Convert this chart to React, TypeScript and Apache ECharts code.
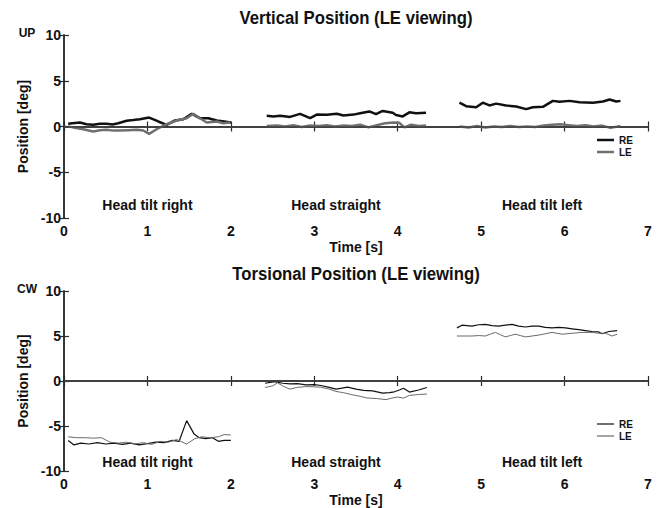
import React, { useEffect, useRef } from 'react';
import * as echarts from 'echarts';

// ---- data: [time s, position deg] ----
const vertRE1 = [[0.05,0.3],[0.1,0.36],[0.19,0.44],[0.27,0.25],[0.35,0.18],[0.43,0.3],[0.51,0.29],[0.58,0.22],[0.65,0.36],[0.75,0.62],[0.83,0.7],[0.91,0.8],[1.02,0.98],[1.08,0.75],[1.13,0.55],[1.23,0.18],[1.33,0.66],[1.43,0.8],[1.53,1.38],[1.63,0.91],[1.73,0.91],[1.83,0.66],[1.92,0.55],[2.0,0.44]];
const vertLE1 = [[0.05,0.0],[0.09,-0.07],[0.16,-0.2],[0.23,-0.3],[0.35,-0.55],[0.43,-0.4],[0.51,-0.36],[0.59,-0.45],[0.67,-0.44],[0.77,-0.4],[0.87,-0.36],[0.95,-0.44],[1.02,-0.8],[1.11,-0.3],[1.23,0.25],[1.35,0.66],[1.47,0.9],[1.55,1.4],[1.63,0.9],[1.71,0.44],[1.83,0.55],[1.91,0.36],[1.99,0.44]];
const vertRE2 = [[2.43,1.17],[2.51,1.1],[2.59,1.17],[2.71,1.05],[2.83,1.38],[2.95,0.91],[3.03,1.3],[3.15,1.28],[3.27,1.4],[3.35,1.2],[3.47,1.3],[3.55,1.45],[3.66,1.65],[3.74,1.35],[3.82,1.7],[3.94,1.5],[3.98,1.25],[4.06,1.1],[4.14,1.55],[4.22,1.45],[4.34,1.5]];
const vertLE2 = [[2.43,0.05],[2.55,0.1],[2.65,0.0],[2.75,0.15],[2.85,-0.05],[2.95,0.1],[3.05,0.05],[3.15,0.15],[3.25,0.0],[3.35,0.1],[3.45,0.05],[3.55,0.2],[3.65,-0.1],[3.75,0.15],[3.85,0.35],[3.95,0.45],[4.02,0.4],[4.08,-0.1],[4.16,0.2],[4.25,0.05],[4.34,0.1]];
const vertRE3 = [[4.74,2.6],[4.82,2.22],[4.94,2.11],[5.02,2.6],[5.1,2.3],[5.18,2.5],[5.3,2.3],[5.42,2.19],[5.54,1.9],[5.62,2.11],[5.74,2.15],[5.86,2.8],[5.94,2.7],[6.06,2.8],[6.18,2.66],[6.34,2.6],[6.46,2.73],[6.54,2.95],[6.62,2.73],[6.67,2.8]];
const vertLE3 = [[4.74,0.0],[4.85,-0.1],[4.95,0.05],[5.05,-0.1],[5.15,0.0],[5.25,-0.05],[5.35,0.05],[5.45,-0.05],[5.55,0.0],[5.65,-0.05],[5.75,0.1],[5.85,0.2],[5.95,0.25],[6.05,0.15],[6.15,0.05],[6.25,0.15],[6.35,0.0],[6.45,0.1],[6.55,-0.15],[6.67,0.05]];

const torRE1 = [[0.05,-6.6],[0.12,-7.1],[0.2,-6.9],[0.3,-7.0],[0.4,-6.85],[0.5,-7.0],[0.6,-6.9],[0.7,-7.05],[0.8,-6.9],[0.9,-7.1],[1.0,-6.95],[1.1,-6.8],[1.2,-6.85],[1.3,-6.6],[1.38,-6.7],[1.47,-4.4],[1.56,-5.9],[1.62,-6.3],[1.7,-6.4],[1.78,-6.3],[1.85,-6.7],[1.92,-6.6],[2.0,-6.6]];
const torLE1 = [[0.05,-6.2],[0.15,-6.3],[0.25,-6.3],[0.35,-6.35],[0.45,-6.3],[0.55,-6.8],[0.65,-6.9],[0.75,-6.8],[0.85,-7.0],[0.95,-6.85],[1.05,-7.05],[1.15,-6.7],[1.25,-6.8],[1.35,-6.5],[1.47,-7.0],[1.57,-6.4],[1.65,-6.2],[1.75,-6.3],[1.85,-6.2],[1.92,-5.95],[2.0,-6.0]];
const torRE2 = [[2.41,-0.25],[2.53,-0.07],[2.62,-0.25],[2.71,-0.33],[2.8,-0.3],[2.9,-0.43],[3.0,-0.4],[3.08,-0.5],[3.18,-0.7],[3.26,-0.9],[3.33,-0.8],[3.4,-0.69],[3.5,-0.9],[3.59,-1.05],[3.7,-1.1],[3.82,-1.34],[3.9,-1.3],[3.96,-1.2],[4.02,-1.0],[4.07,-0.8],[4.14,-1.23],[4.25,-1.0],[4.35,-0.72]];
const torLE2 = [[2.41,-0.72],[2.5,-0.55],[2.56,-0.2],[2.63,-0.6],[2.71,-0.9],[2.8,-0.7],[2.9,-0.62],[3.0,-0.65],[3.08,-0.69],[3.18,-0.9],[3.26,-1.16],[3.35,-1.3],[3.45,-1.52],[3.55,-1.7],[3.63,-1.88],[3.75,-1.95],[3.86,-2.07],[3.93,-1.9],[4.0,-1.78],[4.07,-1.9],[4.14,-1.6],[4.25,-1.5],[4.35,-1.45]];
const torRE3 = [[4.71,5.9],[4.77,6.2],[4.89,6.1],[4.97,6.25],[5.05,6.3],[5.13,6.15],[5.21,6.1],[5.29,6.2],[5.37,6.3],[5.45,6.1],[5.53,6.0],[5.61,6.1],[5.69,6.1],[5.77,5.95],[5.85,5.9],[5.93,5.95],[6.01,5.9],[6.09,5.8],[6.17,5.7],[6.25,5.6],[6.33,5.5],[6.41,5.45],[6.45,5.25],[6.53,5.5],[6.63,5.6]];
const torLE3 = [[4.71,5.0],[4.8,5.0],[4.89,5.0],[4.97,5.05],[5.05,5.0],[5.11,5.2],[5.17,5.4],[5.23,5.15],[5.29,4.9],[5.35,5.05],[5.41,5.2],[5.47,5.05],[5.53,4.9],[5.61,5.0],[5.69,5.1],[5.77,5.25],[5.85,5.4],[5.91,5.3],[5.97,5.2],[6.03,5.25],[6.09,5.3],[6.15,5.35],[6.21,5.4],[6.33,5.4],[6.41,5.3],[6.49,5.3],[6.57,5.0],[6.63,5.2]];

const conditions = ['Head tilt right', 'Head straight', 'Head tilt left'];
const conditionCenters = [1.0, 3.26, 5.73];
const chartTitles = ['Vertical Position (LE viewing)', 'Torsional Position (LE viewing)'];
const directionLabels = ['UP', 'CW'];
const eyes = ['RE', 'LE'];

const FONT = '"Liberation Sans Narrow", "Arial Narrow", "Liberation Sans", Arial, sans-serif';
const AX = '#2a2a2a';

function joinSegs(...segs: number[][][]) {
  const out: any[] = [];
  segs.forEach((s, i) => {
    if (i > 0) out.push([s[0][0] - 0.01, null]);
    s.forEach((p) => out.push(p));
  });
  return out;
}

export default function App() {
  const ref = useRef<HTMLDivElement>(null);
  useEffect(() => {
    if (!ref.current) return;
    const chart = echarts.init(ref.current, undefined, { renderer: 'svg' });
    const grids = [
      { left: 64, top: 35, width: 584, height: 183 },
      { left: 64, top: 291, width: 584, height: 184 },
    ];
    const lbl = { fontFamily: FONT, fontWeight: 'bold' as const, color: '#111', fontSize: 14 };
    const xAxes: any[] = [];
    const yAxes: any[] = [];
    grids.forEach((_, g) => {
      xAxes.push({
        gridIndex: g, type: 'value', min: 0, max: 7, interval: 1, position: 'bottom',
        axisLine: { show: true, lineStyle: { color: AX, width: 1.5 } },
        axisTick: { show: true, inside: true, length: 5, lineStyle: { color: AX, width: 1.2 } },
        axisLabel: { ...lbl, margin: 6 },
        splitLine: { show: false },
        name: 'Time [s]', nameLocation: 'middle', nameGap: 22,
        nameTextStyle: { ...lbl },
      });
      xAxes.push({
        gridIndex: g, type: 'value', min: 0, max: 7, interval: 1, position: 'top',
        axisLine: { show: true, lineStyle: { color: AX, width: 1.5 } },
        axisTick: { show: true, inside: true, length: 5, lineStyle: { color: AX, width: 1.2 } },
        axisLabel: { show: false }, splitLine: { show: false },
      });
      yAxes.push({
        gridIndex: g, type: 'value', min: -10, max: 10, interval: 5, position: 'left',
        axisLine: { show: true, lineStyle: { color: AX, width: 1.5 } },
        axisTick: { show: true, inside: true, length: 5, lineStyle: { color: AX, width: 1.2 } },
        axisLabel: { ...lbl, margin: 3 },
        splitLine: { show: false },
        name: 'Position [deg]', nameLocation: 'middle', nameGap: 23,
        nameTextStyle: { ...lbl },
      });
      yAxes.push({
        gridIndex: g, type: 'value', min: -10, max: 10, interval: 5, position: 'right',
        axisLine: { show: true, lineStyle: { color: AX, width: 1.5 } },
        axisTick: { show: true, inside: true, length: 5, lineStyle: { color: AX, width: 1.2 } },
        axisLabel: { show: false }, splitLine: { show: false },
      });
    });

    const zeroLine = {
      silent: true, symbol: 'none', label: { show: false },
      lineStyle: { color: '#444', width: 1.5, type: 'solid' },
      data: [{ yAxis: 0 }],
    };
    const mk = (name: string, data: any[], g: number, color: string, width: number, withZero: boolean) => ({
      type: 'line', name, data, xAxisIndex: g * 2, yAxisIndex: g * 2,
      symbol: 'none', connectNulls: false, lineStyle: { color, width }, itemStyle: { color },
      z: 3, markLine: withZero ? zeroLine : undefined,
    });

    const styles = [
      { lw: 2.5, cols: ['#111', '#707070'] },
      { lw: 1.2, cols: ['#111', '#6a6a6a'] },
    ];
    const series = [
      mk('RE', joinSegs(vertRE1, vertRE2, vertRE3), 0, styles[0].cols[0], styles[0].lw, true),
      mk('LE', joinSegs(vertLE1, vertLE2, vertLE3), 0, styles[0].cols[1], styles[0].lw, false),
      mk('RE', joinSegs(torRE1, torRE2, torRE3), 1, styles[1].cols[0], styles[1].lw, true),
      mk('LE', joinSegs(torLE1, torLE2, torLE3), 1, styles[1].cols[1], 1, false),
    ];

    const graphic: any[] = [];
    const tops = [35, 291];
    const legendTops = [140, 424];
    tops.forEach((t, g) => {
      graphic.push({ type: 'text', x: 356, y: t - 17, scaleX: 0.88, style: { text: chartTitles[g], fontFamily: FONT, fontWeight: 'bold', fontSize: 19, fill: '#111', textAlign: 'center', textVerticalAlign: 'middle' } });
      graphic.push({ type: 'text', x: 27, y: t - 2, style: { text: directionLabels[g], fontFamily: FONT, fontWeight: 'bold', fontSize: 12, fill: '#111', textAlign: 'center', textVerticalAlign: 'middle' } });
      conditions.forEach((c, i) => {
        graphic.push({ type: 'text', x: 64 + conditionCenters[i] * (584 / 7), y: t + (g === 0 ? 170 : 171), style: { text: c, fontFamily: FONT, fontWeight: 'bold', fontSize: 14, fill: '#111', textAlign: 'center', textVerticalAlign: 'middle' } });
      });
      eyes.forEach((e, i) => {
        const y = legendTops[g] + i * 12;
        graphic.push({ type: 'line', shape: { x1: 597, y1: y, x2: 614, y2: y }, style: { stroke: styles[g].cols[i], lineWidth: styles[g].lw } });
        graphic.push({ type: 'text', x: 619, y, style: { text: e, fontFamily: FONT, fontWeight: 'bold', fontSize: 10, fill: '#111', textAlign: 'left', textVerticalAlign: 'middle' } });
      });
    });

    chart.setOption({
      animation: false,
      backgroundColor: '#fff',
      grid: grids,
      xAxis: xAxes,
      yAxis: yAxes,
      series,
      graphic,
    });
    return () => chart.dispose();
  }, []);
  return <div ref={ref} style={{ position: 'fixed', left: 0, top: 0, width: 659, height: 508, background: '#fff' }} />;
}
